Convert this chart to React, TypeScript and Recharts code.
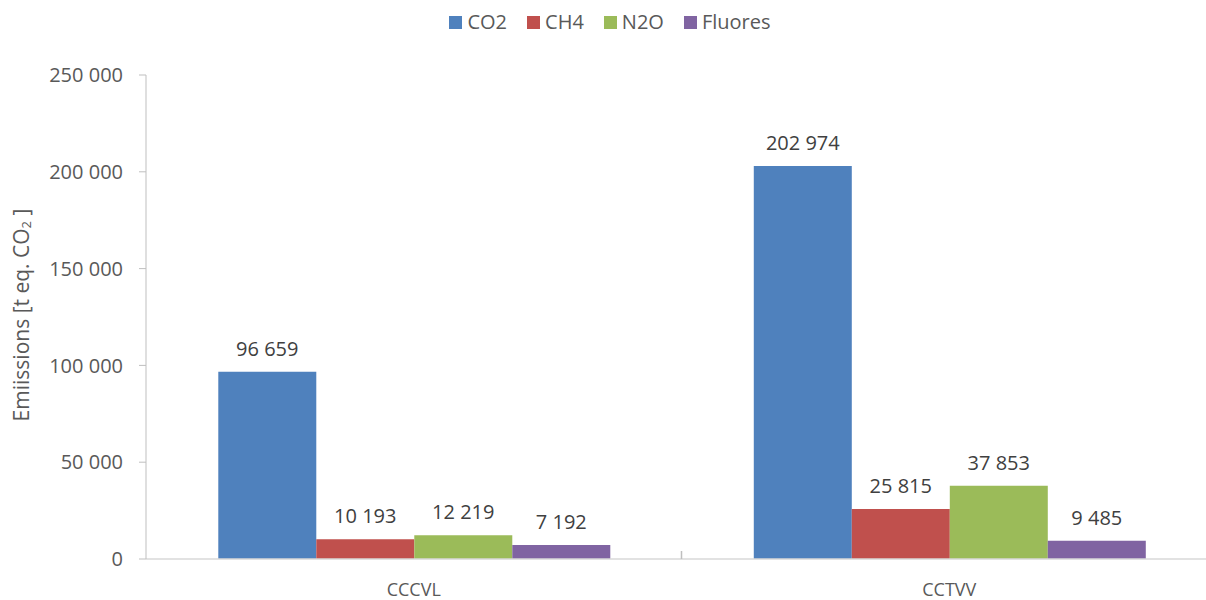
import { Bar, BarChart, LabelList, Legend, XAxis, YAxis } from 'recharts';

const categories = ['CCCVL', 'CCTVV'];
const co2 = [96659, 202974];
const ch4 = [10193, 25815];
const n2o = [12219, 37853];
const fluores = [7192, 9485];
const yTicks = [0, 50000, 100000, 150000, 200000, 250000];

const series = [
  { key: 'co2', name: 'CO2', color: '#4F81BD' },
  { key: 'ch4', name: 'CH4', color: '#C0504D' },
  { key: 'n2o', name: 'N2O', color: '#9BBB59' },
  { key: 'fluores', name: 'Fluores', color: '#8064A2' },
];

const data = categories.map((c, i) => ({
  name: c,
  co2: co2[i],
  ch4: ch4[i],
  n2o: n2o[i],
  fluores: fluores[i],
}));

const font = '"Open Sans", sans-serif';
const fmt = (v: number | string) =>
  String(v).replace(/\B(?=(\d{3})+(?!\d))/g, ' ');

const LegendContent = () => (
  <div
    style={{
      display: 'flex',
      justifyContent: 'center',
      paddingLeft: 14,
      fontFamily: font,
      fontSize: 20,
      lineHeight: '26px',
      color: '#595959',
    }}
  >
    {series.map((s, i) => (
      <div key={s.key} style={{ display: 'flex', alignItems: 'center', marginLeft: i ? 20 : 0 }}>
        <span style={{ width: 13, height: 13, background: s.color, marginRight: 5, display: 'inline-block' }} />
        <span>{s.name}</span>
      </div>
    ))}
  </div>
);

const YLabel = ({ viewBox }: any) => {
  const cx = 21;
  const cy = viewBox.y + viewBox.height / 2 - 2;
  return (
    <text
      x={cx}
      y={cy}
      transform={`rotate(-90, ${cx}, ${cy})`}
      textAnchor='middle'
      dominantBaseline='central'
      fontFamily={font}
      fontSize={21}
      fill='#595959'
    >
      Emiissions [t eq. CO
      <tspan fontSize={13} dy={5}>2</tspan>
      <tspan dy={-5}> ]</tspan>
    </text>
  );
};

// category label plus the small divider tick at the category's right edge
const CategoryTick = ({ x, y, payload, index }: any) => {
  const axisY = y - 24;
  const edge = x + (payload.offset ?? 0);
  return (
    <g>
      {index < categories.length - 1 && (
        <line x1={edge} x2={edge} y1={axisY - 8} y2={axisY} stroke='#bfbfbf' strokeWidth={1.5} />
      )}
      <text x={x} y={y} dy='0.71em' textAnchor='middle' fill='#595959' fontSize={18} fontFamily={font}>
        {payload.value}
      </text>
    </g>
  );
};

export default function App() {
  return (
    <div style={{ position: 'fixed', left: 0, top: 0, width: 1206, height: 600, overflow: 'hidden', background: '#fff' }}>
      <BarChart
        width={1222}
        height={600}
        data={data}
        margin={{ top: 49, right: 5, bottom: 0, left: 0 }}
        barGap={0}
        barCategoryGap='13.5%'
      >
        <Legend verticalAlign='top' content={<LegendContent />} wrapperStyle={{ top: 9, left: 0, width: 1206 }} />
        <XAxis
          dataKey='name'
          height={41}
          tickLine={false}
          tickMargin={18}
          axisLine={{ stroke: '#d9d9d9', strokeWidth: 1.5 }}
          tick={<CategoryTick />}
        />
        <YAxis
          width={146}
          domain={[0, 250000]}
          ticks={yTicks}
          tickFormatter={fmt}
          tickSize={7}
          tickMargin={16}
          axisLine={{ stroke: '#bfbfbf' }}
          tickLine={{ stroke: '#bfbfbf' }}
          tick={{ fill: '#595959', fontSize: 20, fontFamily: font }}
          label={<YLabel />}
        />
        {series.map((s) => (
          <Bar key={s.key} dataKey={s.key} name={s.name} fill={s.color} isAnimationActive={false}>
            <LabelList
              dataKey={s.key}
              position='top'
              offset={16}
              formatter={(v: any) => fmt(v)}
              style={{ fill: '#404040', fontSize: 20, fontFamily: font }}
            />
          </Bar>
        ))}
      </BarChart>
    </div>
  );
}
